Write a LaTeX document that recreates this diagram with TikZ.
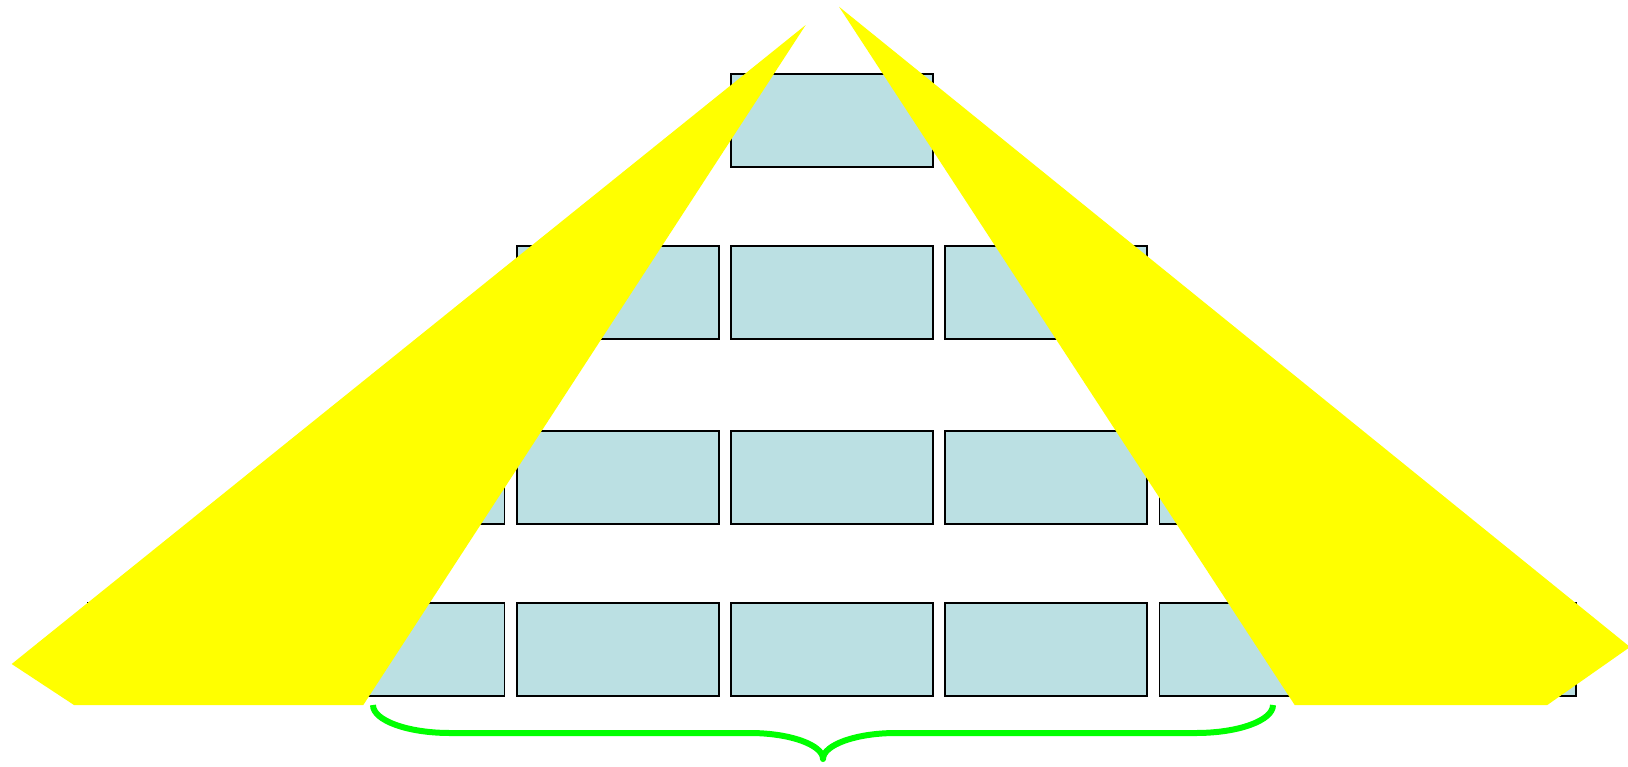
\documentclass[tikz,border=0pt]{standalone}
\definecolor{boxfill}{RGB}{187,224,227}
\definecolor{yel}{RGB}{255,255,0}
\definecolor{grn}{RGB}{0,255,0}
\begin{document}
\begin{tikzpicture}[x=0.5pt,y=-0.5pt,
  brick/.style={draw=black, line width=0.85pt, fill=boxfill, minimum width=101pt,
    minimum height=46.5pt, inner sep=0pt, outer sep=0pt, anchor=north west},
  wedge/.style={fill=yel, draw=none},
  brace/.style={draw=grn, line width=3pt, line join=round}]
\useasboundingbox (0,0) rectangle (1628,766);
% pyramid of boxes
\node[brick] (r1c0) at (731,74) {};
\foreach \c in {-1,0,1} \node[brick] (r2c\c) at ({731+214.3*\c},246) {};
\foreach \c in {-2,...,2} \node[brick] (r3c\c) at ({731+214.3*\c},431) {};
\foreach \c in {-3,...,3} \node[brick] (r4c\c) at ({731+214.3*\c},603) {};
% yellow wedges
\fill[wedge] (805.7,25) -- (363.3,705) -- (74,705) -- (11.7,664) -- cycle;
\fill[wedge] (839,6.7) -- (1630,647) -- (1547.3,705) -- (1294.7,705) -- cycle;
% green brace
\coordinate (bl) at (373,705);
\coordinate (br) at (1273,705);
\coordinate (tip) at (823,759);
\draw[brace] (bl) .. controls (373,720.5) and (407.5,733) .. (450,733)
  -- (750,733) .. controls (790.3,733) and (823,745) .. (tip)
  .. controls (823,745) and (855.7,733) .. (896,733)
  -- (1196,733) .. controls (1238.5,733) and (1273,720.5) .. (br);
\end{tikzpicture}
\end{document}
